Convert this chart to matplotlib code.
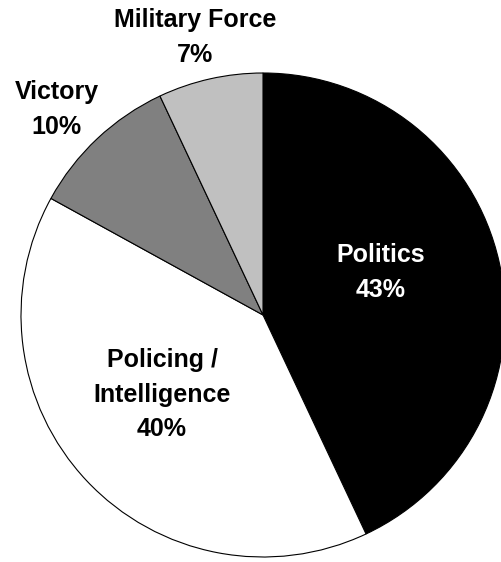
import matplotlib
matplotlib.use("Agg")
from matplotlib import pyplot as plt

categories = ["Politics", "Policing /\nIntelligence", "Victory", "Military Force"]
shares = [43, 40, 10, 7]
colors = ["#000000", "#FFFFFF", "#808080", "#C0C0C0"]

plt.rcParams["font.family"] = ["Liberation Sans", "DejaVu Sans"]

fig = plt.figure(figsize=(5.02, 5.62), dpi=100)
# square axes in pixels, pie of radius 1 fills it
ax = fig.add_axes([21 / 502, 5 / 562, 484 / 502, 484 / 562])
ax.pie(shares, colors=colors, startangle=90, counterclock=False, radius=1,
       wedgeprops={"edgecolor": "black", "linewidth": 0.8})
ax.set_xlim(-1, 1)
ax.set_ylim(-1, 1)
ax.axis("off")

# label positions (data coords), text colour per slice
label_pos = [(0.488, 0.175), (-0.417, -0.33), (-0.853, 0.85), (-0.281, 1.146)]
label_colors = ["white", "black", "black", "black"]
for name, val, (x, y), c in zip(categories, shares, label_pos, label_colors):
    t = ax.text(x, y, "%s\n%d%%" % (name, val), ha="center", va="center",
                fontsize=18, fontweight="bold", color=c, linespacing=1.55,
                multialignment="center")
    t.set_clip_on(False)

fig.savefig("out.png", dpi=100)
